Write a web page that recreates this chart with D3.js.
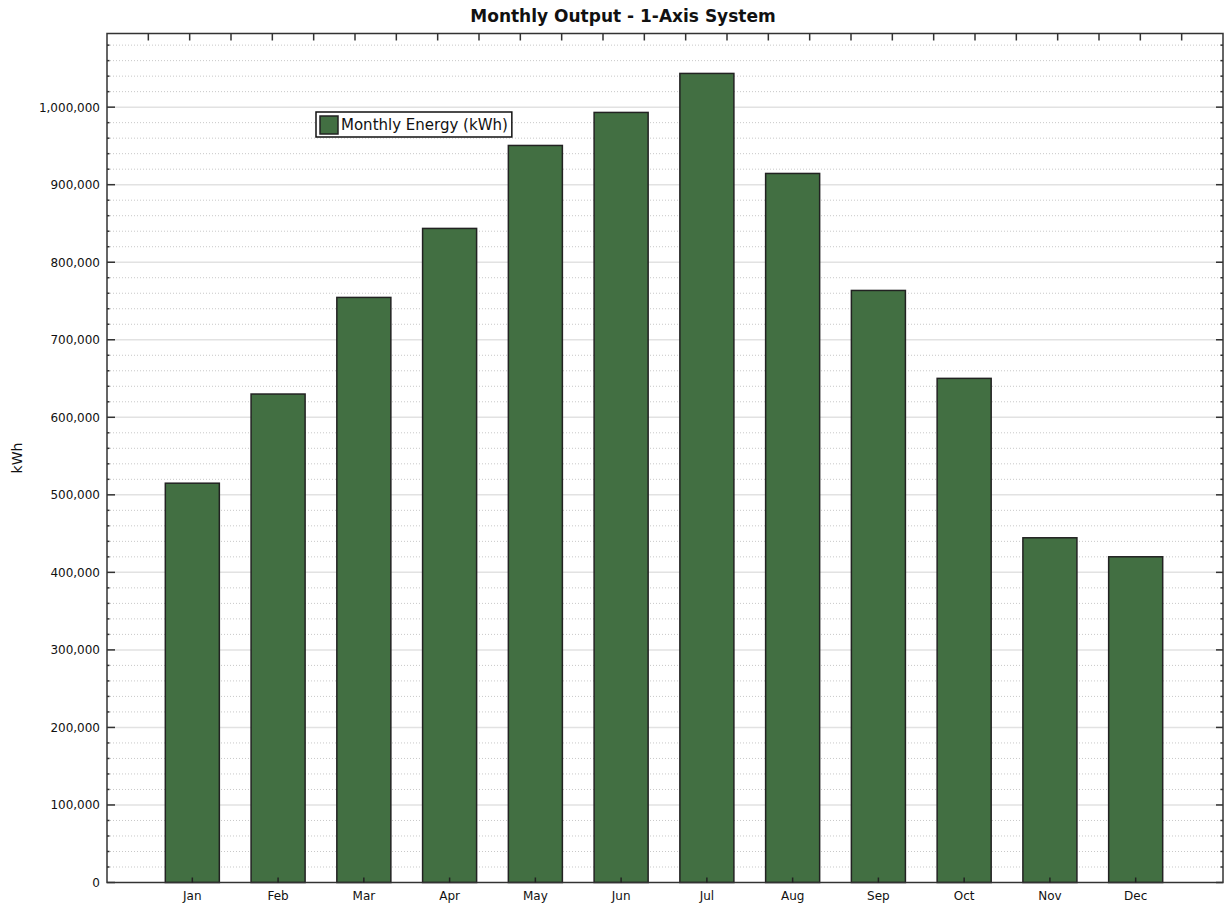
<!DOCTYPE html>
<html>
<head>
<meta charset="utf-8">
<script src="https://cdn.jsdelivr.net/npm/d3@7"></script>
<style>
  body { margin: 0; background: #fff; }
  text { font-family: "DejaVu Sans", sans-serif; fill: #111; }
</style>
</head>
<body>
<svg id="chart" width="1225" height="909"></svg>
<script>
// data
let months = ["Jan", "Feb", "Mar", "Apr", "May", "Jun", "Jul", "Aug", "Sep", "Oct", "Nov", "Dec"];
let energy = [515000, 630000, 754600, 843600, 950600, 993200, 1043500, 914500, 763600, 650200, 444600, 420100];
let yTicks = [0, 100000, 200000, 300000, 400000, 500000, 600000, 700000, 800000, 900000, 1000000];
let seriesName = "Monthly Energy (kWh)";

let chart = d3.select("#chart");
let plotLeft = 107, plotRight = 1223, plotTop = 33.5, plotBottom = 882.5;

// x position scale
let x = d3.scaleBand()
    .domain(months)
    .range([plotLeft, plotRight - 2])
    .paddingInner(0.37)
    .paddingOuter(0.68);

// y position scale
let y = d3.scaleLinear()
    .domain([0, 1095000])
    .range([plotBottom, plotTop]);

let minor = d3.range(0, 1095000, 20000);

// grid lines
chart.selectAll(".minor")
    .data(minor.filter(function(d) { return d % 100000 != 0; }))
    .enter().append("line")
    .attr("x1", plotLeft).attr("x2", plotRight)
    .attr("y1", function(d) { return y(d); })
    .attr("y2", function(d) { return y(d); })
    .style("stroke", "#c8c8c8")
    .style("stroke-width", 1)
    .style("stroke-dasharray", "1,2");

chart.selectAll(".major")
    .data(yTicks.slice(1))
    .enter().append("line")
    .attr("x1", plotLeft).attr("x2", plotRight)
    .attr("y1", function(d) { return y(d); })
    .attr("y2", function(d) { return y(d); })
    .style("stroke", "#e2e2e2")
    .style("stroke-width", 1.5);

// bars
chart.selectAll(".bar")
    .data(energy).enter()
    .append("rect")
    .attr("x", function(d, i) { return x(months[i]); })
    .attr("y", function(d) { return y(d); })
    .attr("width", x.bandwidth())
    .attr("height", function(d) { return plotBottom - y(d); })
    .style("fill", "#426f42")
    .style("stroke", "#222")
    .style("stroke-width", 1.5);

// frame
chart.append("rect")
    .attr("x", plotLeft).attr("y", plotTop)
    .attr("width", plotRight - plotLeft).attr("height", plotBottom - plotTop)
    .style("fill", "none")
    .style("stroke", "#333")
    .style("stroke-width", 1.5);

// left axis: labels outside, ticks inside
let yAxis = d3.axisLeft(y)
    .tickValues(yTicks)
    .tickSize(0)
    .tickPadding(7)
    .tickFormat(d3.format(","));
let yAxisGroup = chart.append("g")
    .attr("transform", "translate(" + plotLeft + ",0)")
    .call(yAxis);
yAxisGroup.select(".domain").remove();
yAxisGroup.selectAll("text").style("font-size", "12px").style("fill", "#111");

chart.selectAll(".ltick")
    .data(minor).enter().append("line")
    .attr("x1", plotLeft)
    .attr("x2", function(d) { return d % 100000 == 0 ? plotLeft + 8 : plotLeft + 2.5; })
    .attr("y1", function(d) { return y(d); })
    .attr("y2", function(d) { return y(d); })
    .style("stroke", "#333").style("stroke-width", 1.5);

chart.selectAll(".rtick")
    .data(minor).enter().append("line")
    .attr("x1", plotRight)
    .attr("x2", function(d) { return d % 100000 == 0 ? plotRight - 7 : plotRight - 2.5; })
    .attr("y1", function(d) { return y(d); })
    .attr("y2", function(d) { return y(d); })
    .style("stroke", "#333").style("stroke-width", 1.5);

// top ticks
let xt = d3.scaleLinear().domain([0, 27]).range([plotLeft, plotRight]);
chart.selectAll(".ttick")
    .data(d3.range(1, 27)).enter().append("line")
    .attr("x1", function(d) { return xt(d); })
    .attr("x2", function(d) { return xt(d); })
    .attr("y1", plotTop).attr("y2", plotTop + 7)
    .style("stroke", "#333").style("stroke-width", 1.5);

// bottom axis
let xAxis = d3.axisBottom(x).tickSize(0).tickPadding(9);
let xAxisGroup = chart.append("g")
    .attr("transform", "translate(0," + plotBottom + ")")
    .call(xAxis);
xAxisGroup.select(".domain").remove();
xAxisGroup.selectAll("text").style("font-size", "12px").style("fill", "#111");

chart.selectAll(".btick")
    .data(months).enter().append("line")
    .attr("x1", function(d) { return x(d) + x.bandwidth() / 2; })
    .attr("x2", function(d) { return x(d) + x.bandwidth() / 2; })
    .attr("y1", plotBottom).attr("y2", plotBottom - 5)
    .style("stroke", "#222").style("stroke-width", 1.5);

// title
chart.append("text")
    .text("Monthly Output - 1-Axis System")
    .attr("x", 623)
    .attr("y", 22)
    .style("text-anchor", "middle")
    .style("font-size", "17px")
    .style("font-weight", "bold");

// y label
chart.append("text")
    .text("kWh")
    .attr("transform", "translate(22," + 458 + ") rotate(-90)")
    .style("text-anchor", "middle")
    .style("font-size", "14px");

// legend
let legend = chart.append("g").attr("transform", "translate(316,112)");
let legendBox = legend.append("rect")
    .attr("width", 196).attr("height", 25)
    .style("fill", "#fff")
    .style("stroke", "#111")
    .style("stroke-width", 1.5);
legend.append("rect")
    .attr("x", 4).attr("y", 4)
    .attr("width", 18).attr("height", 18)
    .style("fill", "#426f42")
    .style("stroke", "#222")
    .style("stroke-width", 1.5);
let legendText = legend.append("text")
    .text(seriesName)
    .attr("x", 25).attr("y", 18)
    .style("font-size", "15px");
legendBox.attr("width", legendText.node().getComputedTextLength() + 29);
</script>
</body>
</html>
